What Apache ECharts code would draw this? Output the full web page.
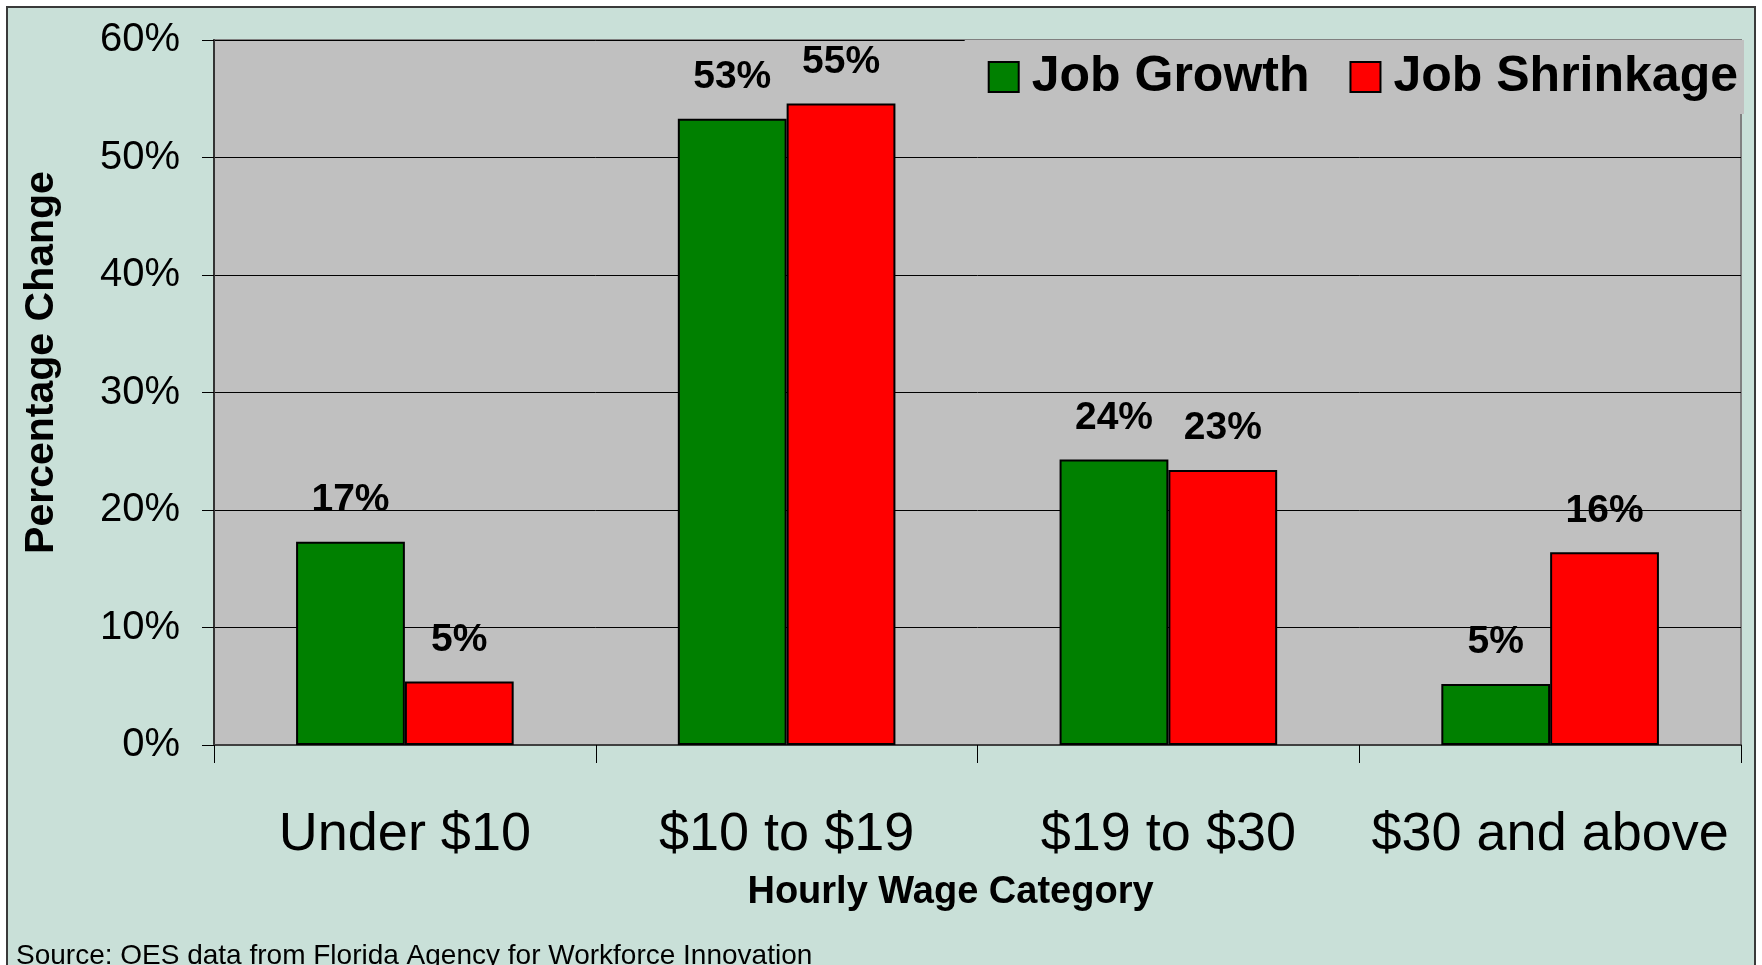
<!DOCTYPE html>
<html>
<head>
<meta charset="utf-8">
<title>Job Growth and Shrinkage by Hourly Wage</title>
<script src="https://cdn.jsdelivr.net/npm/echarts@6/dist/echarts.min.js"></script>
<style>
  html, body { margin: 0; padding: 0; background: #fff; }
  #chart { width: 1762px; height: 965px; }
</style>
</head>
<body>
<div id="chart"></div>
<script>
const categories = ['Under $10', '$10 to $19', '$19 to $30', '$30 and above']
const seriesNames = ['Job Growth', 'Job Shrinkage']
const jobGrowth = [17.3, 53.3, 24.3, 5.2]
const jobShrinkage = [5.4, 54.6, 23.4, 16.4]
const yTicks = { min: 0, max: 60, interval: 10 }

const font = '"Liberation Sans", Arial, sans-serif'

const chart = echarts.init(document.getElementById('chart'))

const barLabel = {
  show: true,
  position: 'top',
  distance: 22,
  color: '#000',
  fontFamily: font,
  fontWeight: 'bold',
  fontSize: 39,
  formatter: (p) => Math.round(p.value) + '%'
}

chart.setOption({
  animation: false,
  backgroundColor: '#fff',
  graphic: [
    {
      type: 'rect',
      z: -10,
      shape: { x: 7, y: 7, width: 1748, height: 980 },
      style: { fill: '#c9e0d8', stroke: '#3a3a3a', lineWidth: 2 }
    },
    {
      type: 'text',
      left: 16,
      top: 942,
      style: {
        text: 'Source: OES data from Florida Agency for Workforce Innovation',
        font: '28px ' + font,
        fill: '#000'
      }
    }
  ],
  grid: {
    left: 214,
    right: 21,
    top: 40,
    bottom: 220,
    show: true,
    backgroundColor: '#c0c0c0',
    borderColor: '#808080',
    borderWidth: 2
  },
  legend: {
    data: seriesNames,
    right: 18,
    top: 40,
    padding: [12, 6, 12, 23],
    backgroundColor: '#c0c0c0',
    icon: 'rect',
    itemWidth: 30,
    itemHeight: 30,
    itemGap: 40,
    textStyle: {
      color: '#000',
      fontFamily: font,
      fontWeight: 'bold',
      fontSize: 50,
      padding: [0, 0, 0, 8]
    }
  },
  xAxis: {
    type: 'category',
    data: categories,
    name: 'Hourly Wage Category',
    nameLocation: 'middle',
    nameGap: 129,
    nameTextStyle: {
      color: '#000',
      fontFamily: font,
      fontWeight: 'bold',
      fontSize: 38,
      padding: [0, 54, 0, 0]
    },
    axisLine: { lineStyle: { color: '#404040', width: 2 } },
    axisTick: { show: true, interval: 0, length: 18, lineStyle: { color: '#000', width: 1 } },
    axisLabel: {
      interval: 0,
      color: '#000',
      fontFamily: font,
      fontSize: 54,
      margin: 63
    }
  },
  yAxis: {
    type: 'value',
    min: yTicks.min,
    max: yTicks.max,
    interval: yTicks.interval,
    name: 'Percentage Change',
    nameLocation: 'middle',
    nameRotate: 90,
    nameGap: 152,
    nameTextStyle: {
      color: '#000',
      fontFamily: font,
      fontWeight: 'bold',
      fontSize: 41,
      padding: [0, 0, 0, 60]
    },
    axisLine: { show: true, lineStyle: { color: '#333', width: 2 } },
    axisTick: { show: true, length: 12, lineStyle: { color: '#000', width: 1 } },
    axisLabel: {
      color: '#000',
      fontFamily: font,
      fontSize: 40,
      margin: 34,
      formatter: '{value}%'
    },
    splitLine: { lineStyle: { color: '#000', width: 1 } }
  },
  series: [
    {
      name: seriesNames[0],
      type: 'bar',
      data: jobGrowth,
      barGap: '0%',
      barCategoryGap: '43%',
      itemStyle: { color: '#008000', borderColor: '#000', borderWidth: 2 },
      label: barLabel
    },
    {
      name: seriesNames[1],
      type: 'bar',
      data: jobShrinkage,
      barGap: '0%',
      barCategoryGap: '43%',
      itemStyle: { color: '#ff0000', borderColor: '#000', borderWidth: 2 },
      label: barLabel
    }
  ]
})
</script>
</body>
</html>
